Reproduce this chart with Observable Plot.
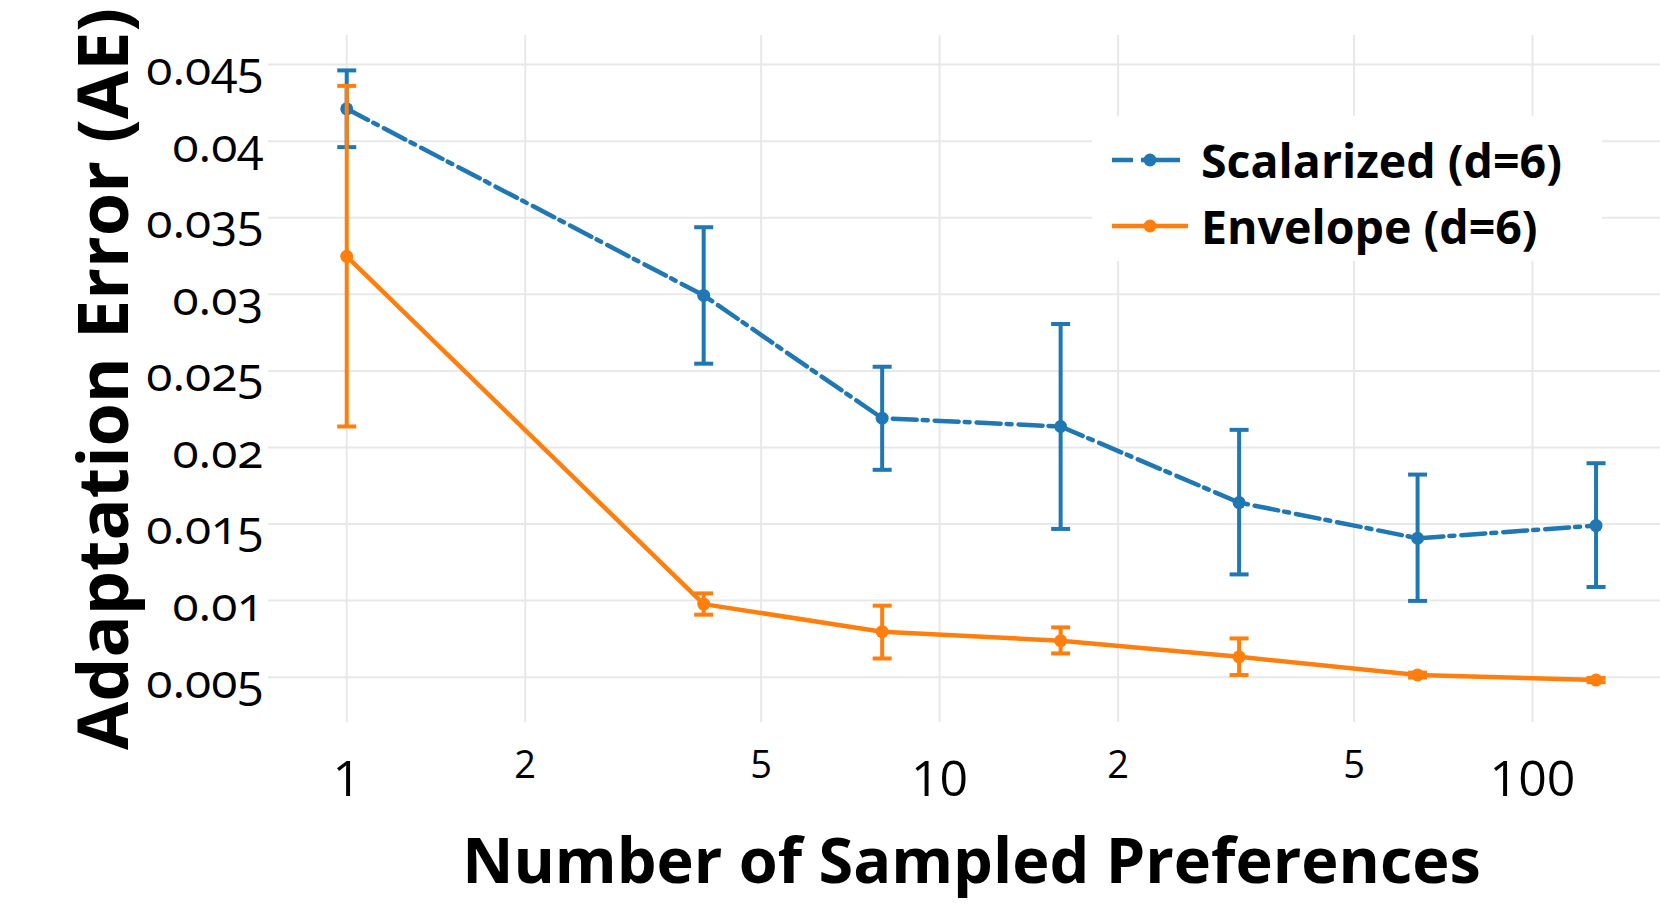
<!DOCTYPE html>
<html>
<head>
<meta charset="utf-8">
<script src="https://cdn.jsdelivr.net/npm/d3@7"></script>
<script src="https://cdn.jsdelivr.net/npm/@observablehq/plot@0.6"></script>
<style>
  html, body { margin: 0; padding: 0; background: #fff; }
  #wrap { position: relative; width: 1660px; height: 905px; overflow: hidden; font-family: "Open Sans", sans-serif; }
  #wrap svg.plot { display: block; }
  .ytick text { font-variant-numeric: oldstyle-nums; }
  #legend { position: absolute; left: 1092px; top: 116px; width: 510px; height: 145px; background: #fff; }
</style>
</head>
<body>
<div id="wrap"></div>
<script>
// ---- data ----
const samples = [1, 4, 8, 16, 32, 64, 128];

const scalarizedMean = [0.04211, 0.02993, 0.02191, 0.02137, 0.01640, 0.01407, 0.01490];
const scalarizedLow  = [0.03961, 0.02547, 0.01854, 0.01468, 0.01171, 0.00998, 0.01089];
const scalarizedHigh = [0.04462, 0.03438, 0.02527, 0.02806, 0.02115, 0.01823, 0.01897];

const envelopeMean = [0.03248, 0.00977, 0.00797, 0.00738, 0.00633, 0.00514, 0.00481];
const envelopeLow  = [0.02137, 0.00908, 0.00622, 0.00655, 0.00514, 0.00498, 0.00467];
const envelopeHigh = [0.04361, 0.01047, 0.00967, 0.00825, 0.00753, 0.00530, 0.00495];

const seriesNames = ["Scalarized (d=6)", "Envelope (d=6)"];
const seriesColors = ["#1f77b4", "#ff7f0e"];

const yTicks = [0.005, 0.01, 0.015, 0.02, 0.025, 0.03, 0.035, 0.04, 0.045];
const yTickLabels = ["0.005", "0.01", "0.015", "0.02", "0.025", "0.03", "0.035", "0.04", "0.045"];
const xGridTicks = [1, 2, 5, 10, 20, 50, 100];
const xMajorTicks = [1, 10, 100];
const xMajorLabels = ["1", "10", "100"];
const xMinorTicks = [2, 5, 20, 50];
const xMinorLabels = ["2", "5", "2", "5"];

const xTitle = "Number of Sampled Preferences";
const yTitle = "Adaptation Error (AE)";

// ---- build tables ----
const scalarized = samples.map((n, i) => ({n, mean: scalarizedMean[i], lo: scalarizedLow[i], hi: scalarizedHigh[i]}));
const envelope = samples.map((n, i) => ({n, mean: envelopeMean[i], lo: envelopeLow[i], hi: envelopeHigh[i]}));
const capsOf = (rows) => rows.flatMap(d => [{n: d.n, v: d.lo}, {n: d.n, v: d.hi}]);

const yLabelMap = new Map(yTicks.map((t, i) => [t, yTickLabels[i]]));
const xMajorMap = new Map(xMajorTicks.map((t, i) => [t, xMajorLabels[i]]));
const xMinorMap = new Map(xMinorTicks.map((t, i) => [t, xMinorLabels[i]]));

// horizontal cap symbol for error bars
const capSymbol = {
  draw(context, size) {
    const w = Math.sqrt(size / Math.PI);
    context.moveTo(-w, 0);
    context.lineTo(w, 0);
  }
};

const dashDot = "24,6,5,7";
const gridStyle = {stroke: "#e8e8e8", strokeOpacity: 1, strokeWidth: 2};

function seriesMarks(rows, color, dash) {
  return [
    Plot.ruleX(rows, {x: "n", y1: "lo", y2: "hi", stroke: color, strokeWidth: 4}),
    Plot.dot(capsOf(rows), {x: "n", y: "v", r: 9.5, symbol: capSymbol, stroke: color, strokeWidth: 4, fill: "none"}),
    Plot.line(rows, {x: "n", y: "mean", stroke: color, strokeWidth: 4.5, strokeDasharray: dash, curve: "linear"}),
    Plot.dot(rows, {x: "n", y: "mean", r: 6.5, fill: color, stroke: "none"})
  ];
}

const chart = Plot.plot({
  width: 1660,
  height: 905,
  marginLeft: 268,
  marginRight: 0,
  marginTop: 35,
  marginBottom: 183,
  style: {fontFamily: "'Open Sans', sans-serif", color: "#000", background: "#fff", overflow: "visible"},
  x: {type: "log", domain: [0.738, 164.4]},
  y: {domain: [0.00204, 0.0469]},
  marks: [
    Plot.gridX(xGridTicks, gridStyle),
    Plot.gridY(yTicks, gridStyle),
    Plot.axisY(yTicks, {tickSize: 0, tickPadding: 5, fontSize: 48, dy: 5, tickFormat: d => yLabelMap.get(d), label: null, className: "ytick"}),
    Plot.axisX(xMajorTicks, {tickSize: 0, tickPadding: 38, fontSize: 50, tickFormat: d => xMajorMap.get(d), label: null}),
    Plot.axisX(xMinorTicks, {tickSize: 0, tickPadding: 29, fontSize: 38, tickFormat: d => xMinorMap.get(d), label: null}),
    Plot.text([xTitle], {frameAnchor: "bottom", textAnchor: "middle", dy: 160, dx: 7, fontSize: 63, fontWeight: "bold", fill: "#000"}),
    Plot.text([yTitle], {frameAnchor: "left", textAnchor: "middle", rotate: -90, dx: -163, fontSize: 70, fontWeight: "bold", fill: "#000"}),
    ...seriesMarks(scalarized, seriesColors[0], dashDot),
    ...seriesMarks(envelope, seriesColors[1], null)
  ]
});

const wrap = document.getElementById("wrap");
wrap.appendChild(chart);

// ---- legend ----
const legend = document.createElement("div");
legend.id = "legend";
const ns = "http://www.w3.org/2000/svg";
const lsvg = document.createElementNS(ns, "svg");
lsvg.setAttribute("width", 510);
lsvg.setAttribute("height", 145);
const rowsY = [44, 110];
const rowBase = [62, 128];
const lineEnds = [88, 96];
seriesNames.forEach((name, i) => {
  const ln = document.createElementNS(ns, "line");
  ln.setAttribute("x1", 20); ln.setAttribute("x2", lineEnds[i]);
  ln.setAttribute("y1", rowsY[i]); ln.setAttribute("y2", rowsY[i]);
  ln.setAttribute("stroke", seriesColors[i]);
  ln.setAttribute("stroke-width", 4.5);
  if (i === 0) ln.setAttribute("stroke-dasharray", "21,8,60");
  lsvg.appendChild(ln);
  const c = document.createElementNS(ns, "circle");
  c.setAttribute("cx", 58); c.setAttribute("cy", rowsY[i]); c.setAttribute("r", 6.5);
  c.setAttribute("fill", seriesColors[i]);
  lsvg.appendChild(c);
  const t = document.createElementNS(ns, "text");
  t.setAttribute("x", 109); t.setAttribute("y", rowBase[i]);
  t.setAttribute("font-family", "'Open Sans', sans-serif");
  t.setAttribute("font-weight", "bold");
  t.setAttribute("font-size", 46.5);
  t.setAttribute("fill", "#000");
  t.textContent = name;
  lsvg.appendChild(t);
});
legend.appendChild(lsvg);
wrap.appendChild(legend);
</script>
</body>
</html>
